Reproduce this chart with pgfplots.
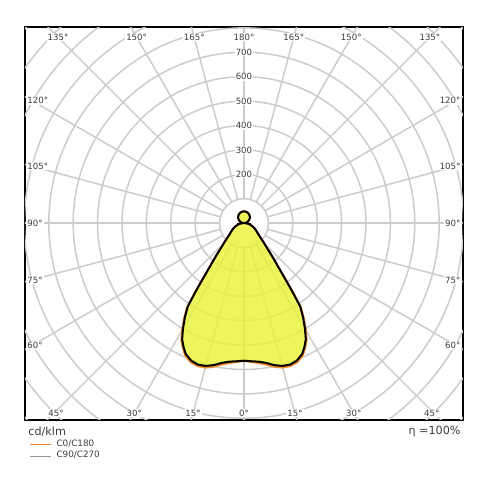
\documentclass[border=0pt]{standalone}
\usepackage{fontspec}
\setmainfont{DejaVu Sans}
\usepackage{pgfplots}
\usepackage{pgfplotstable}
\pgfplotsset{compat=1.18}
\definecolor{gridc}{RGB}{204,204,204}
\definecolor{fillc}{RGB}{233,242,52}
\definecolor{orangec}{RGB}{247,140,40}
\definecolor{txt}{RGB}{60,60,60}
\definecolor{leggray}{RGB}{150,150,150}

% gamma (deg from nadir), b = C90/C270 (cd/klm), o = C0/C180 (cd/klm)
\pgfplotstableread{
g b o
-180 48 48
-170 47.3 47.3
-160 45.1 45.1
-150 41.6 41.6
-140 36.8 36.8
-130 30.9 30.9
-120 24 24
-110 16.4 16.4
-100 8.3 8.3
-90 0 0
-85 9 9
-80 18 18
-76 25 25
-72 32 32
-68 40 40
-64 48 48
-60 55 55
-56 64 64
-52 75 75
-48.7 90 90
-46 110 110
-43.3 133 133
-40.5 175 176
-38.7 212 213
-37.3 250 252
-36.2 295 298
-35.2 345 350
-34 412 419
-32 458 465
-30 500 507
-28 540 546
-26 565 571
-24 587 593
-21 604 610
-18 610 616
-15 606 613
-12 595 602
-9 580 587
-6 571 577
-3 567 570
0 564 565
3 567 570
6 571 577
9 580 587
12 595 602
15 606 613
18 610 616
21 604 610
24 587 593
26 565 571
28 540 546
30 500 507
32 458 465
34 412 419
35.2 345 350
36.2 295 298
37.3 250 252
38.7 212 213
40.5 175 176
43.3 133 133
46 110 110
48.7 90 90
52 75 75
56 64 64
60 55 55
64 48 48
68 40 40
72 32 32
76 25 25
80 18 18
85 9 9
90 0 0
100 8.3 8.3
110 16.4 16.4
120 24 24
130 30.9 30.9
140 36.8 36.8
150 41.6 41.6
160 45.1 45.1
170 47.3 47.3
180 48 48
}\ldtdata

\begin{document}
\begin{tikzpicture}[font=\fontsize{4.3}{5}\selectfont]
\path[use as bounding box] (-12.5pt,-35pt) rectangle (232.5pt,210pt);
\begin{axis}[
  at={(0pt,0pt)}, anchor=south west,
  x=0.122pt, y=0.122pt,
  xmin=-897.5, xmax=897.5, ymin=-807, ymax=803,
  xtick=\empty, ytick=\empty,
  axis line style={line width=1pt, black},
  clip=true,
  legend style={at={(0,0)}, anchor=north west, draw=none, fill=none,
    xshift=2pt, yshift=-9.4pt, inner sep=0pt, row sep=0.4pt,
    nodes={inner sep=0.3pt},
    font=\fontsize{4.4}{5}\selectfont\color{txt}, cells={anchor=west}},
  legend image code/.code={\draw[#1] (0pt,0pt) -- (10.5pt,0pt); \path (12.8pt,0pt);},
]
% grid rings
\pgfplotsinvokeforeach{100,200,...,1200}{
  \draw[gridc, line width=0.75pt] (axis cs:0,0) circle[radius=#1];
}
% radial lines
\pgfplotsinvokeforeach{0,15,...,345}{
  \draw[gridc, line width=0.75pt] (axis cs:{100*cos(#1)},{100*sin(#1)}) -- (axis cs:{1400*cos(#1)},{1400*sin(#1)});
}
% fill
\addplot[draw=none, fill=fillc, fill opacity=0.8, data cs=polar, forget plot]
  table[x expr=\thisrow{g}-90, y=b] {\ldtdata} -- cycle;
% C0/C180
\addplot[orangec, line width=1pt, data cs=polar, forget plot]
  table[x expr=\thisrow{g}-90, y=o] {\ldtdata};
% C90/C270
\addplot[black, line width=1pt, data cs=polar, forget plot]
  table[x expr=\thisrow{g}-90, y=b] {\ldtdata};
\addlegendimage{orangec, line width=0.5pt}
\addlegendentry{C0/C180}
\addlegendimage{leggray, line width=0.5pt}
\addlegendentry{C90/C270}
% value labels
\pgfplotsinvokeforeach{200,300,...,700}{
  \node[fill=white, inner sep=0.4pt, text=txt] at (axis cs:0,#1) {#1};
}
% angle labels bottom
\node[fill=white, inner sep=0.5pt, text=txt] at (axis cs:-770,-779) {45°};
\node[fill=white, inner sep=0.5pt, text=txt] at (axis cs:-450,-779) {30°};
\node[fill=white, inner sep=0.5pt, text=txt] at (axis cs:-209,-779) {15°};
\node[fill=white, inner sep=0.5pt, text=txt] at (axis cs:0,-779) {0°};
\node[fill=white, inner sep=0.5pt, text=txt] at (axis cs:209,-779) {15°};
\node[fill=white, inner sep=0.5pt, text=txt] at (axis cs:450,-779) {30°};
\node[fill=white, inner sep=0.5pt, text=txt] at (axis cs:770,-779) {45°};
% angle labels top
\node[fill=white, inner sep=0.5pt, text=txt] at (axis cs:-762,762) {135°};
\node[fill=white, inner sep=0.5pt, text=txt] at (axis cs:-440,762) {150°};
\node[fill=white, inner sep=0.5pt, text=txt] at (axis cs:-204,762) {165°};
\node[fill=white, inner sep=0.5pt, text=txt] at (axis cs:0,762) {180°};
\node[fill=white, inner sep=0.5pt, text=txt] at (axis cs:204,762) {165°};
\node[fill=white, inner sep=0.5pt, text=txt] at (axis cs:440,762) {150°};
\node[fill=white, inner sep=0.5pt, text=txt] at (axis cs:762,762) {135°};
% angle labels sides
\node[fill=white, inner sep=0.5pt, text=txt, anchor=west] at (axis cs:-893,-502) {60°};
\node[fill=white, inner sep=0.5pt, text=txt, anchor=west] at (axis cs:-893,-233) {75°};
\node[fill=white, inner sep=0.5pt, text=txt, anchor=west] at (axis cs:-893,0) {90°};
\node[fill=white, inner sep=0.5pt, text=txt, anchor=west] at (axis cs:-893,233) {105°};
\node[fill=white, inner sep=0.5pt, text=txt, anchor=west] at (axis cs:-893,502) {120°};
\node[fill=white, inner sep=0.5pt, text=txt, anchor=east] at (axis cs:893,-502) {60°};
\node[fill=white, inner sep=0.5pt, text=txt, anchor=east] at (axis cs:893,-233) {75°};
\node[fill=white, inner sep=0.5pt, text=txt, anchor=east] at (axis cs:893,0) {90°};
\node[fill=white, inner sep=0.5pt, text=txt, anchor=east] at (axis cs:893,233) {105°};
\node[fill=white, inner sep=0.5pt, text=txt, anchor=east] at (axis cs:893,502) {120°};
\end{axis}
\node[anchor=west, inner sep=0pt, text=txt, font=\fontsize{5.6}{6}\selectfont] at (1.5pt,-6pt) {cd/klm};
\node[anchor=east, inner sep=0pt, text=txt, font=\fontsize{5.6}{6}\selectfont] at (218pt,-6pt) {η =100\%};
\end{tikzpicture}
\end{document}
